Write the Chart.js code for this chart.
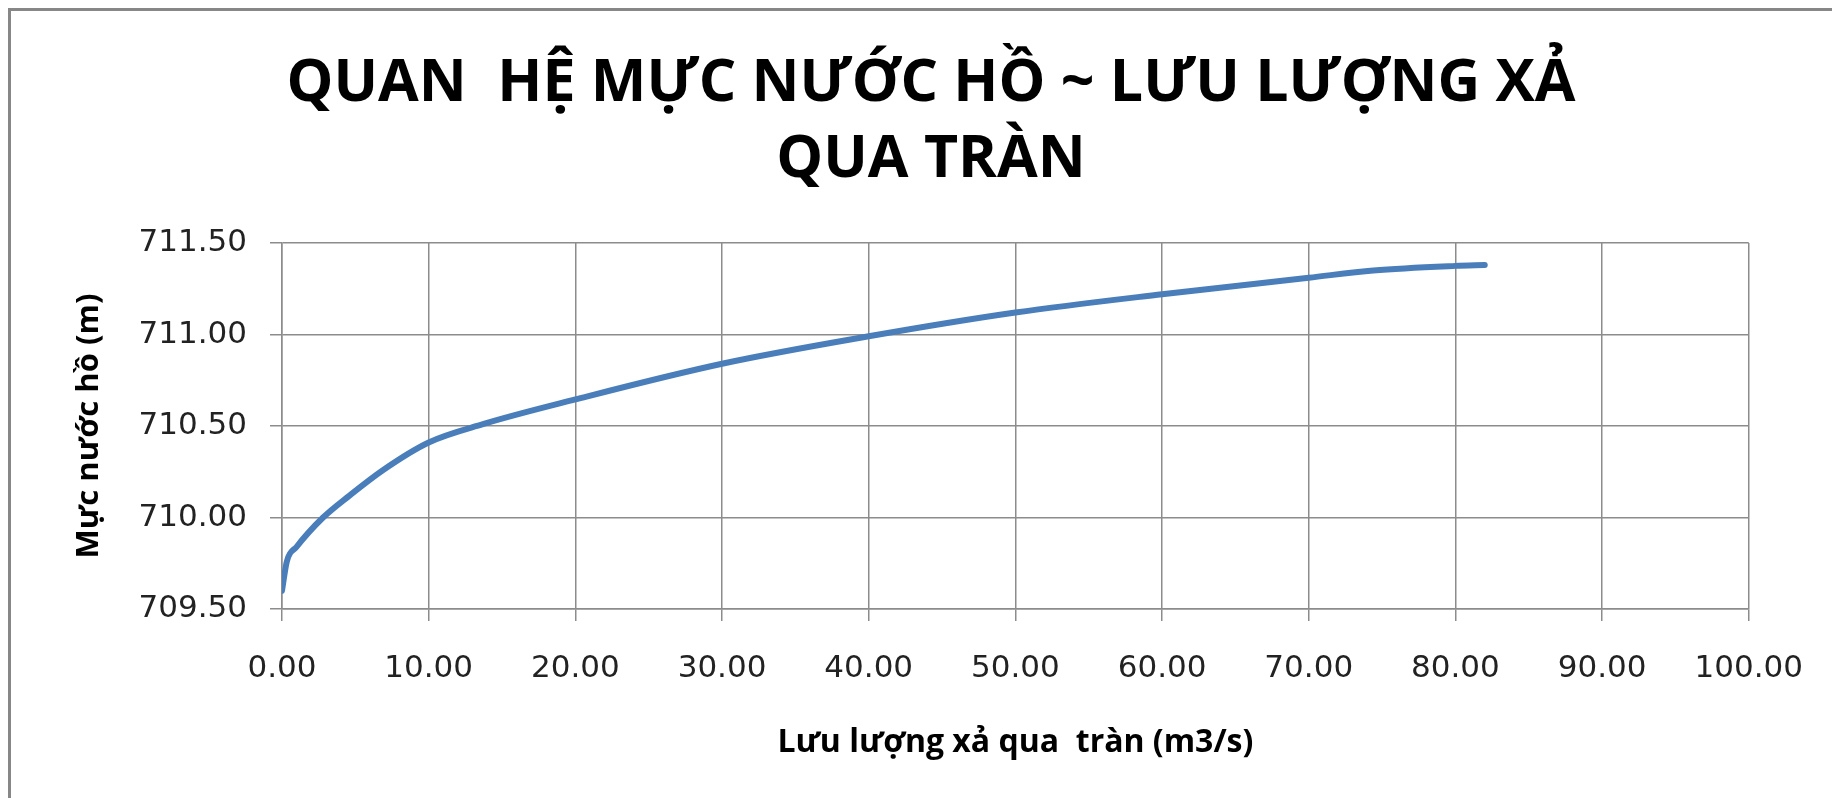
<!DOCTYPE html>
<html>
<head>
<meta charset="utf-8">
<script src="https://cdn.jsdelivr.net/npm/chart.js@4.4.0/dist/chart.umd.min.js"></script>
<style>
  body { margin: 0; background: #fff; }
  #wrap { position: relative; width: 1832px; height: 798px; overflow: hidden; }
  #frame { position: absolute; left: 8px; top: 8px; width: 1900px; height: 900px;
           border-left: 3px solid #878787; border-top: 3px solid #878787; }
  canvas { position: absolute; left: 0; top: 0; }
</style>
</head>
<body>
<div id="wrap">
  <div id="frame"></div>
  <canvas id="chart" width="1832" height="798"></canvas>
</div>
<script>
// luu luong xa qua tran (m3/s) va muc nuoc ho (m), doc tu hinh
let luu_luong = [0, 0.33, 1.0, 2.8, 4.6, 6.9, 10.0, 13.7, 20.0, 30.0, 40.0, 50.0, 60.0, 70.0, 74.4, 80.0, 82.0];
let muc_nuoc = [709.60, 709.76, 709.84, 710.00, 710.12, 710.26, 710.41, 710.51, 710.645, 710.84, 710.99, 711.12, 711.22, 711.31, 711.35, 711.375, 711.38];
let chart_title = ['QUAN  HỆ MỰC NƯỚC HỒ ~ LƯU LƯỢNG XẢ', 'QUA TRÀN'];
let x_title = 'Lưu lượng xả qua  tràn (m3/s)';
let y_title = 'Mực nước hồ (m)';

let points = luu_luong.map((q, i) => ({x: q, y: muc_nuoc[i]}));

let grid_color = '#8c8c8c';
let tick_font = {family: '"DejaVu Sans", Verdana, sans-serif', size: 31};
let title_font_family = '"Open Sans", "Noto Sans", sans-serif';

// tieu de chinh, can giua theo khung bieu do cua Excel
let chart_title_plugin = {
    id: 'chart_title',
    afterDraw(chart) {
        let ctx = chart.ctx;
        ctx.save();
        ctx.font = 'bold 59px ' + title_font_family;
        ctx.fillStyle = '#000';
        ctx.textAlign = 'center';
        ctx.textBaseline = 'alphabetic';
        chart_title.forEach((line, i) => {
            ctx.fillText(line, 931, 101 + i * 76);
        });
        ctx.restore();
    }
};

let muc_nuoc_chart = new Chart(document.getElementById('chart'), {
    type: 'scatter',
    data: {
        datasets: [{
            label: 'Mực nước hồ',
            data: points,
            showLine: true,
            borderColor: '#4a7ebb',
            backgroundColor: '#4a7ebb',
            borderWidth: 6,
            borderCapStyle: 'round',
            borderJoinStyle: 'round',
            pointRadius: 0,
            cubicInterpolationMode: 'monotone'
        }]
    },
    options: {
        responsive: false,
        animation: false,
        layout: {
            padding: {left: 0, right: 78, top: 243, bottom: 0}
        },
        plugins: {
            legend: {display: false},
            tooltip: {enabled: false},
            title: {display: false}
        },
        scales: {
            x: {
                type: 'linear',
                min: 0,
                max: 100,
                afterFit: (scale) => { scale.height = 189; },
                ticks: {
                    stepSize: 10,
                    color: '#222',
                    font: tick_font,
                    padding: 29,
                    maxRotation: 0,
                    callback: (v) => v.toFixed(2)
                },
                grid: {color: grid_color, lineWidth: 1.5, tickLength: 12},
                border: {color: grid_color, width: 1.5},
                title: {
                    display: true,
                    text: x_title,
                    color: '#000',
                    font: {family: title_font_family, size: 32, weight: 'bold'},
                    padding: {top: 0, bottom: 36}
                }
            },
            y: {
                type: 'linear',
                min: 709.5,
                max: 711.5,
                afterFit: (scale) => { scale.width = 282; },
                ticks: {
                    stepSize: 0.5,
                    color: '#222',
                    font: tick_font,
                    padding: 23,
                    callback: (v) => v.toFixed(2)
                },
                grid: {color: grid_color, lineWidth: 1.5, tickLength: 12},
                border: {color: grid_color, width: 1.5},
                title: {
                    display: true,
                    text: y_title,
                    color: '#000',
                    font: {family: title_font_family, size: 31, weight: 'bold'},
                    padding: {top: 71, bottom: 0}
                }
            }
        }
    },
    plugins: [chart_title_plugin]
});
</script>
</body>
</html>
